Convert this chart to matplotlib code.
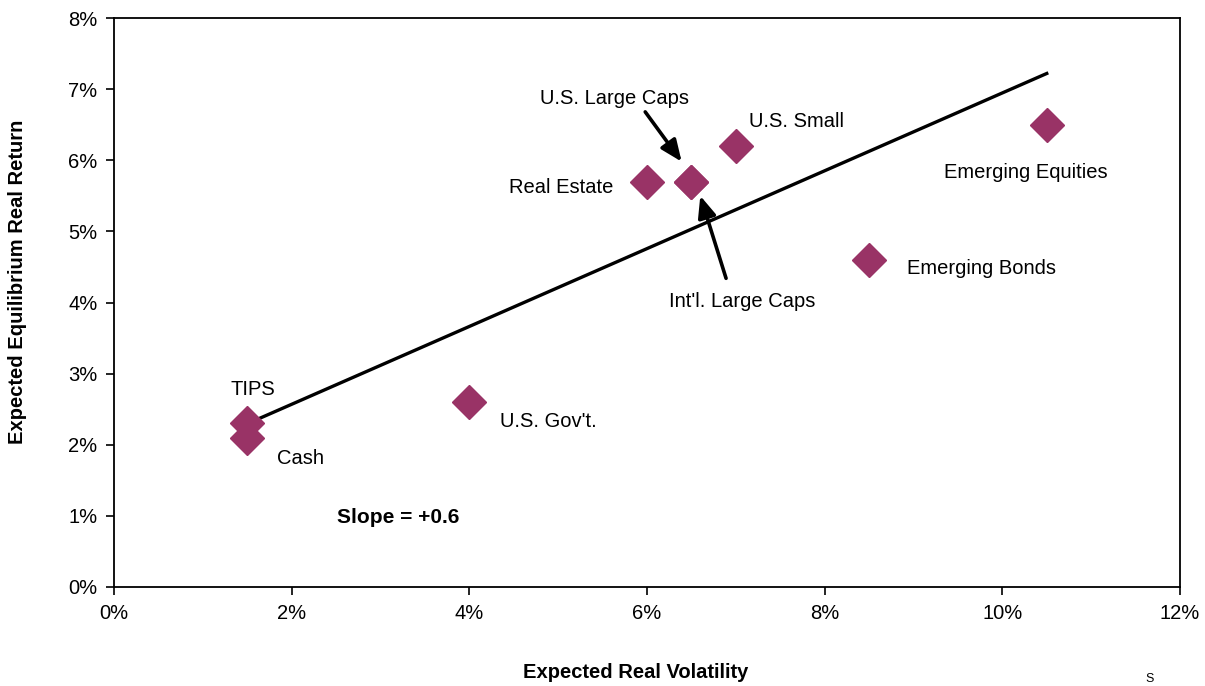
import matplotlib
matplotlib.use("Agg")
import matplotlib.pyplot as plt
from matplotlib.ticker import FuncFormatter

plt.rcParams['font.family'] = ['Liberation Sans', 'DejaVu Sans']

# Data
assets = ["TIPS", "Cash", "U.S. Gov't.", "Real Estate", "U.S. Large Caps",
          "U.S. Small", "Emerging Bonds", "Emerging Equities", "Int'l. Large Caps"]
volatility = [1.5, 1.5, 4.0, 6.0, 6.5, 7.0, 8.5, 10.5, 6.5]
returns = [2.3, 2.1, 2.6, 5.7, 5.7, 6.2, 4.6, 6.5, 5.7]
fit_x = [1.6, 10.5]
fit_y = [2.35, 7.22]
x_ticks = [0, 2, 4, 6, 8, 10, 12]
y_ticks = [0, 1, 2, 3, 4, 5, 6, 7, 8]
plum = "#993366"

fig = plt.figure(figsize=(12.05, 6.86), dpi=100)
ax = fig.add_axes([114/1205, 1-587/686, (1180-114)/1205, (587-18)/686])

ax.plot(fit_x, fit_y, color="black", lw=2.4, zorder=2)
ax.plot(volatility, returns, linestyle="none", marker="D", ms=17,
        color=plum, markeredgecolor=plum, zorder=3)

ax.set_xlim(0, 12)
ax.set_ylim(0, 8)
ax.set_xticks(x_ticks)
ax.set_yticks(y_ticks)
pct = FuncFormatter(lambda v, p: f"{v:.0f}%")
ax.xaxis.set_major_formatter(pct)
ax.yaxis.set_major_formatter(pct)
ax.tick_params(direction="out", length=6, width=1.2, labelsize=14.5, pad=6)
for s in ax.spines.values():
    s.set_linewidth(1.3)

fs = 14.5
ax.text(1.565, 2.77, "TIPS", ha="center", va="center", fontsize=fs)
ax.text(1.835, 1.80, "Cash", ha="left", va="center", fontsize=fs)
ax.text(4.345, 2.33, "U.S. Gov't.", ha="left", va="center", fontsize=fs)
ax.text(5.62, 5.61, "Real Estate", ha="right", va="center", fontsize=fs)
ax.text(5.63, 6.875, "U.S. Large Caps", ha="center", va="center", fontsize=fs)
ax.text(7.15, 6.54, "U.S. Small", ha="left", va="center", fontsize=fs)
ax.text(10.26, 5.83, "Emerging Equities", ha="center", va="center", fontsize=fs)
ax.text(8.93, 4.485, "Emerging Bonds", ha="left", va="center", fontsize=fs)
ax.text(7.07, 4.01, "Int'l. Large Caps", ha="center", va="center", fontsize=fs)
ax.text(3.20, 0.98, "Slope = +0.6", ha="center", va="center", fontsize=15, fontweight="bold")

arrow = dict(arrowstyle="-|>,head_length=1.3,head_width=0.55", color="black", lw=2.6,
             shrinkA=0, shrinkB=0)
ax.annotate("", xy=(6.39, 5.98), xytext=(5.98, 6.68), arrowprops=arrow)
ax.annotate("", xy=(6.60, 5.50), xytext=(6.89, 4.34), arrowprops=arrow)

fig.text(636/1205, 1-672/686, "Expected Real Volatility", ha="center", va="center",
         fontsize=14.5, fontweight="bold")
fig.text(18/1205, 1-282/686, "Expected Equilibrium Real Return", ha="center", va="center",
         rotation=90, fontsize=14.5, fontweight="bold")
fig.text(1150/1205, 1/686, "S", ha="center", va="bottom", fontsize=9)

fig.savefig("out.png", dpi=100)
